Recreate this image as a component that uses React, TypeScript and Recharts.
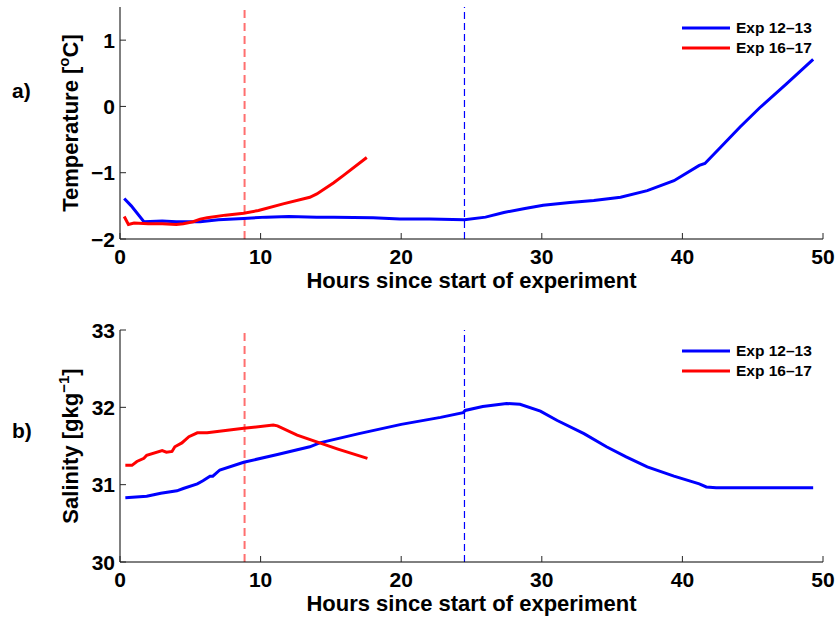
import { Label, Legend, Line, LineChart, ReferenceLine, XAxis, YAxis } from "recharts";

// hours since start of experiment
const hourTicks = [0, 10, 20, 30, 40, 50];
const tempTicks = [-2, -1, 0, 1];
const salTicks = [30, 31, 32, 33];

const seriesNames = ["Exp 12–13", "Exp 16–17"];
const seriesColors = ["#0000ff", "#ff0000"];

// dashed markers (Exp 16-17 end, Exp 12-13 end)
const markerHours = [8.86, 24.5];
const markerColors = ["#ff6f6f", "#0000ff"];

// a) temperature, Exp 12-13
const tempBlueHours = [0.3, 0.8, 1.7, 3, 4, 5, 5.7, 7, 8.8, 10.4, 12, 14, 15.2, 18, 19.9, 22, 24.5, 26, 27.3, 28.8, 30.1, 32, 33.7, 35.6, 37.5, 39.4, 41.2, 41.6, 42.7, 44.1, 45.5, 47.4, 49.3];
const tempBlueValues = [-1.39, -1.5, -1.74, -1.73, -1.74, -1.74, -1.74, -1.71, -1.69, -1.67, -1.66, -1.67, -1.67, -1.68, -1.7, -1.7, -1.71, -1.67, -1.6, -1.54, -1.49, -1.45, -1.42, -1.37, -1.27, -1.12, -0.89, -0.86, -0.62, -0.31, -0.02, 0.34, 0.71];

// a) temperature, Exp 16-17
const tempRedHours = [0.3, 0.6, 1, 2, 3, 4, 4.5, 5.2, 5.7, 6.2, 7.5, 8.8, 9.85, 11.6, 13.5, 14, 15.2, 15.9, 17.55];
const tempRedValues = [-1.66, -1.78, -1.76, -1.77, -1.77, -1.78, -1.77, -1.74, -1.7, -1.68, -1.64, -1.61, -1.57, -1.47, -1.37, -1.32, -1.15, -1.04, -0.77];

// b) salinity, Exp 12-13
const salBlueHours = [0.38, 1.9, 2.9, 4.05, 4.5, 5.5, 5.9, 6.4, 6.6, 7.1, 8.8, 11.2, 13.5, 14.2, 17, 20, 22.8, 24.4, 24.55, 25.8, 27.5, 28.45, 29.9, 31.1, 33, 34.6, 36, 37.5, 39.4, 41.2, 41.7, 42.4, 44, 46, 49.3];
const salBlueValues = [30.83, 30.85, 30.89, 30.92, 30.95, 31.01, 31.05, 31.11, 31.11, 31.19, 31.29, 31.39, 31.49, 31.54, 31.66, 31.78, 31.87, 31.93, 31.96, 32.01, 32.05, 32.04, 31.95, 31.83, 31.66, 31.49, 31.36, 31.23, 31.11, 31.01, 30.97, 30.96, 30.96, 30.96, 30.96];

// b) salinity, Exp 16-17
const salRedHours = [0.38, 0.85, 1.2, 1.7, 1.9, 3.0, 3.3, 3.7, 3.9, 4.4, 4.9, 5.5, 6.2, 8.8, 10.9, 11.2, 12.6, 14.2, 15.5, 17.6];
const salRedValues = [31.25, 31.25, 31.3, 31.34, 31.38, 31.44, 31.42, 31.43, 31.49, 31.54, 31.62, 31.67, 31.67, 31.73, 31.77, 31.76, 31.64, 31.54, 31.46, 31.34];

const toRows = (hours: number[], values: number[]) =>
  hours.map((h, i) => ({ h, v: values[i] }));

const FONT = "'Liberation Sans', Arial, Helvetica, sans-serif";
const fmt = (v: number) => (v < 0 ? `\u2212${Math.abs(v)}` : `${v}`);

function BottomTick({ x, y, payload }: any) {
  return (
    <g>
      <line x1={x} x2={x} y1={y} y2={y - 6} stroke="#262626" />
      <text x={x} y={y + 25} textAnchor="middle" fontFamily={FONT} fontWeight="bold" fontSize={21} fill="#000">
        {payload.value}
      </text>
    </g>
  );
}

function TopTick({ x, y }: any) {
  return <line x1={x} x2={x} y1={y} y2={y + 6} stroke="#262626" />;
}

function LeftTick({ x, y, payload }: any) {
  return (
    <g>
      <line x1={x} x2={x + 6} y1={y} y2={y} stroke="#262626" />
      <text x={x - 5} y={y + 7.5} textAnchor="end" fontFamily={FONT} fontWeight="bold" fontSize={21} fill="#000">
        {fmt(payload.value)}
      </text>
    </g>
  );
}

function RightTick({ x, y }: any) {
  return <line x1={x} x2={x - 6} y1={y} y2={y} stroke="#262626" />;
}

function XTitle({ viewBox }: any) {
  const cx = viewBox.x + viewBox.width / 2;
  return (
    <text x={cx} y={viewBox.y + 49} textAnchor="middle" fontFamily={FONT} fontWeight="bold" fontSize={22} fill="#000">
      Hours since start of experiment
    </text>
  );
}

function YTitle({ viewBox, main, sup, tail, letter, letterY }: any) {
  const bx = viewBox.x + 78;
  const cy = viewBox.y + viewBox.height / 2;
  return (
    <g>
      <text x={12} y={letterY} fontFamily={FONT} fontWeight="bold" fontSize={21} fill="#000">
        {letter}
      </text>
      <text
        x={bx}
        y={cy}
        transform={`rotate(-90, ${bx}, ${cy})`}
        textAnchor="middle"
        fontFamily={FONT}
        fontWeight="bold"
        fontSize={22}
        fill="#000"
      >
        {main}
        <tspan dy={-9} fontSize={15}>{sup}</tspan>
        <tspan dy={9}>{tail}</tspan>
      </text>
    </g>
  );
}

function ExpLegend() {
  return (
    <div style={{ fontFamily: FONT, fontWeight: "bold", fontSize: 15.5, color: "#000" }}>
      {seriesNames.map((name, i) => (
        <div key={name} style={{ display: "flex", alignItems: "center", height: 20 }}>
          <svg width={48} height={4}>
            <line x1={0} x2={48} y1={2} y2={2} stroke={seriesColors[i]} strokeWidth={3} />
          </svg>
          <span style={{ marginLeft: 6, lineHeight: "20px" }}>{name}</span>
        </div>
      ))}
    </div>
  );
}

type PanelProps = {
  top: number;
  height: number;
  margin: { top: number; right: number; bottom: number; left: number };
  domain: [number, number];
  ticks: number[];
  blue: { h: number; v: number }[];
  red: { h: number; v: number }[];
  title: { main: string; sup: string; tail: string; letter: string; letterY: number };
  legendTop: number;
};

function Panel({ top, height, margin, domain, ticks, blue, red, title, legendTop }: PanelProps) {
  return (
    <div style={{ position: "absolute", left: 0, top }}>
      <LineChart width={835} height={height} margin={margin}>
        <XAxis
          dataKey="h"
          type="number"
          domain={[0, 50]}
          ticks={hourTicks}
          height={51}
          tickSize={0}
          tickMargin={0}
          tickLine={false}
          axisLine={{ stroke: "#000" }}
          tick={<BottomTick />}
          interval={0}
        >
          <Label content={(p: any) => <XTitle {...p} />} />
        </XAxis>
        <XAxis
          xAxisId="top"
          orientation="top"
          type="number"
          domain={[0, 50]}
          ticks={hourTicks}
          height={0}
          tickSize={0}
          tickMargin={0}
          tickLine={false}
          axisLine={{ stroke: "#000" }}
          tick={<TopTick />}
          interval={0}
        />
        <YAxis
          type="number"
          domain={domain}
          ticks={ticks}
          width={120}
          tickSize={0}
          tickMargin={0}
          tickLine={false}
          axisLine={{ stroke: "#000" }}
          tick={<LeftTick />}
          interval={0}
        >
          <Label content={(p: any) => <YTitle {...p} {...title} />} />
        </YAxis>
        <YAxis
          yAxisId="right"
          orientation="right"
          type="number"
          domain={domain}
          ticks={ticks}
          width={0}
          tickSize={0}
          tickMargin={0}
          tickLine={false}
          axisLine={{ stroke: "#000" }}
          tick={<RightTick />}
          interval={0}
        />
        {markerHours.map((h, i) => (
          <ReferenceLine
            key={h}
            x={h}
            stroke={markerColors[i]}
            strokeWidth={i === 0 ? 2 : 1.2}
            strokeDasharray={i === 0 ? "8 5" : "7 4"}
          />
        ))}
        <Line data={blue} dataKey="v" name={seriesNames[0]} stroke={seriesColors[0]} strokeWidth={3} dot={false} type="linear" isAnimationActive={false} />
        <Line data={red} dataKey="v" name={seriesNames[1]} stroke={seriesColors[1]} strokeWidth={3} dot={false} type="linear" isAnimationActive={false} />
        <Legend
          content={<ExpLegend />}
          layout="horizontal"
          verticalAlign="middle"
          align="center"
          wrapperStyle={{ top: legendTop, left: 682, width: "auto" }}
        />
      </LineChart>
    </div>
  );
}

export default function App() {
  return (
    <div style={{ position: "absolute", left: 0, top: 0, width: 835, height: 619, background: "#fff" }}>
      <Panel
        top={290}
        height={329}
        margin={{ top: 40, right: 12, bottom: 6, left: 0 }}
        domain={[30, 33]}
        ticks={salTicks}
        blue={toRows(salBlueHours, salBlueValues)}
        red={toRows(salRedHours, salRedValues)}
        title={{ main: "Salinity [gkg", sup: "\u22121", tail: "]", letter: "b)", letterY: 148 }}
        legendTop={51}
      />
      <Panel
        top={0}
        height={300}
        margin={{ top: 7, right: 12, bottom: 10, left: 0 }}
        domain={[-2, 1.5]}
        ticks={tempTicks}
        blue={toRows(tempBlueHours, tempBlueValues)}
        red={toRows(tempRedHours, tempRedValues)}
        title={{ main: "Temperature [", sup: "o", tail: "C]", letter: "a)", letterY: 98 }}
        legendTop={18}
      />
    </div>
  );
}
